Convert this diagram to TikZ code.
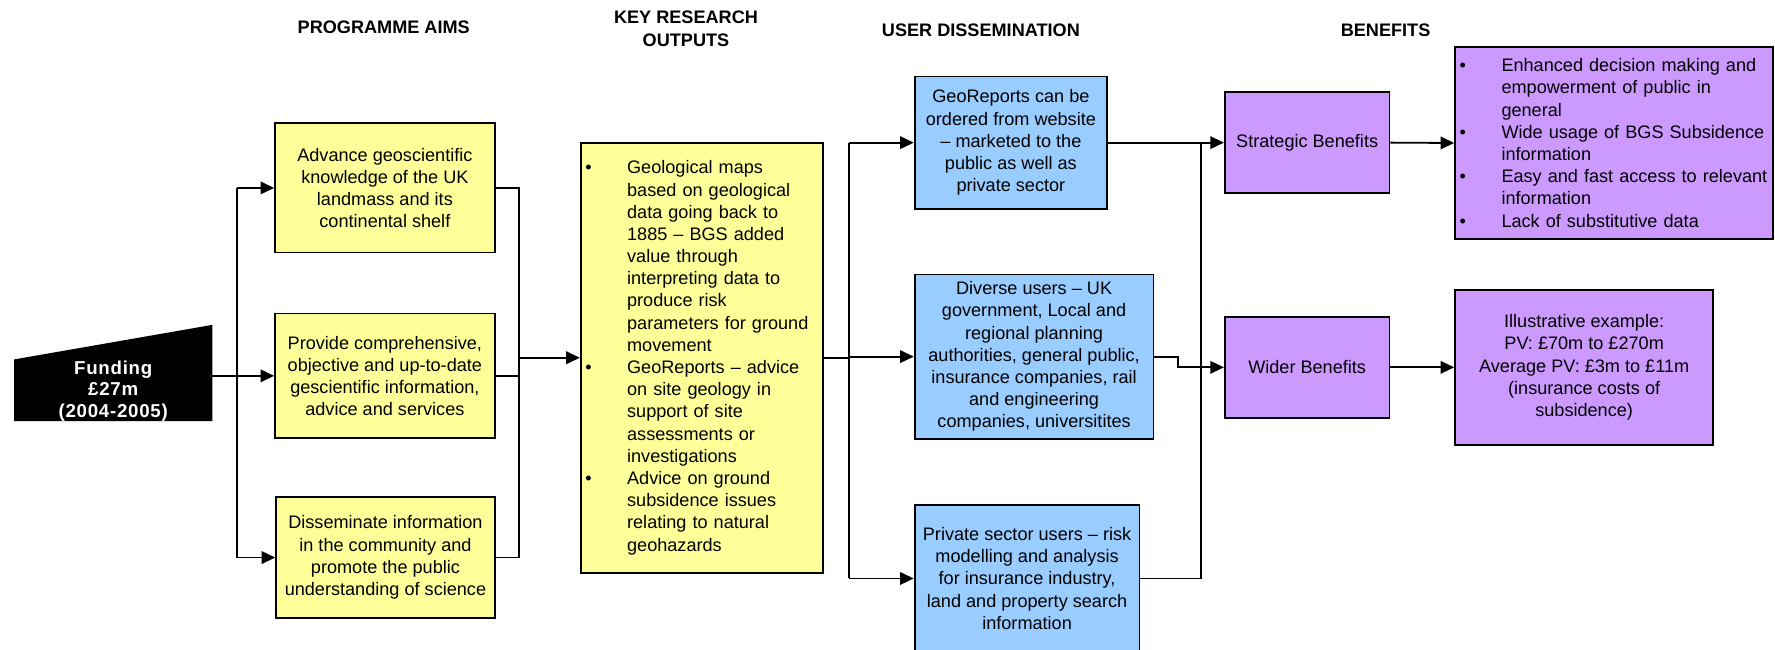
\documentclass[tikz,border=0pt]{standalone}
\usepackage{fontspec}
\setmainfont{Liberation Sans}
\usetikzlibrary{arrows.meta}
\definecolor{yel}{HTML}{FFFF99}
\definecolor{blu}{HTML}{99CCFF}
\definecolor{pur}{HTML}{CC99FF}
\newcommand{\bul}{\makebox[37pt][l]{\textbullet}}
\newcommand{\ind}{\hspace*{37pt}}
\begin{document}
\begin{tikzpicture}[x=1pt,y=-1pt,
  font=\fontsize{16}{19.6}\selectfont,
  box/.style={draw=black, line width=1.6pt, inner sep=0pt, align=center},
  yb/.style={box, fill=yel},
  bb/.style={box, fill=blu},
  pb/.style={box, fill=pur},
  hd/.style={font=\bfseries\fontsize{16}{20}\selectfont, align=center, inner sep=0pt},
  conn/.style={line width=1.6pt},
  arr/.style={conn, -{Triangle[length=12pt,width=11pt]}}]
\useasboundingbox (0,0) rectangle (1568,574);

% headers
\node[hd] (h1) at (339,24) {PROGRAMME AIMS};
\node[hd] (h2) at (606,25.5) {KEY RESEARCH\\OUTPUTS};
\node[hd] (h3) at (866.5,26.5) {USER DISSEMINATION};
\node[hd] (h4) at (1224,27) {BENEFITS};

% funding
\fill[black] (12.5,317.5) -- (187.5,287) -- (187.5,372) -- (12.5,372) -- cycle;
\node[text=white, font=\bfseries\fontsize{16.5}{19.2}\selectfont\addfontfeature{LetterSpace=4}, align=center, inner sep=0pt] (fund) at (100,345.4) {Funding\\£27m\\(2004-2005)};
\coordinate (fundR) at (187.5,332);

% programme aims
\node[yb, minimum width=194pt, minimum height=114pt] (A1) at (340,166)
  {Advance geoscientific\\knowledge of the UK\\landmass and its\\continental shelf};
\node[yb, minimum width=194pt, minimum height=110pt] (A2) at (340,332)
  {Provide comprehensive,\\objective and up-to-date\\gescientific information,\\advice and services};
\node[yb, minimum width=193pt, minimum height=107pt] (A3) at (340.5,492.5)
  {Disseminate information\\in the community and\\promote the public\\understanding of science};

% key research outputs
\node[yb, minimum width=214pt, minimum height=380pt, text width=206pt, align=left, inner xsep=4pt] (KRO) at (620,316)
  {\bul Geological maps\\\ind based on geological\\\ind data going back to\\\ind 1885 – BGS added\\\ind value through\\\ind interpreting data to\\\ind produce risk\\\ind parameters for ground\\\ind movement\\
   \bul GeoReports – advice\\\ind on site geology in\\\ind support of site\\\ind assessments or\\\ind investigations\\
   \bul Advice on ground\\\ind subsidence issues\\\ind relating to natural\\\ind geohazards};

% user dissemination
\node[bb, minimum width=170pt, minimum height=117pt] (B1) at (893,126)
  {GeoReports can be\\ordered from website\\– marketed to the\\public as well as\\private sector};
\node[bb, minimum width=211pt, minimum height=145pt] (B2) at (913.5,315)
  {Diverse users – UK\\government, Local and\\regional planning\\authorities, general public,\\insurance companies, rail\\and engineering\\companies, universitites};
\node[bb, minimum width=198.6pt, minimum height=130pt] (B3) at (907.3,511)
  {Private sector users – risk\\modelling and analysis\\for insurance industry,\\land and property search\\information};

% benefits
\node[pb, minimum width=145.4pt, minimum height=89pt] (S) at (1154.7,126) {Strategic Benefits};
\node[pb, minimum width=145.4pt, minimum height=89pt] (W) at (1154.7,324.5) {Wider Benefits};
\node[pb, minimum width=280.6pt, minimum height=170pt, text width=272.6pt, align=left, inner xsep=4pt] (BEN) at (1425.7,126.3)
  {\bul Enhanced decision making and\\\ind empowerment of public in\\\ind general\\
   \bul Wide usage of BGS Subsidence\\\ind information\\
   \bul Easy and fast access to relevant\\\ind information\\
   \bul Lack of substitutive data};
\node[pb, minimum width=228pt, minimum height=137pt] (IL) at (1399.4,324.5)
  {Illustrative example:\\PV: £70m to £270m\\Average PV: £3m to £11m\\(insurance costs of\\subsidence)};

% connectors: funding -> aims
\coordinate (vL) at (209.5,0);
\draw[arr] (fundR) -- (A2.west);
\draw[conn] (vL |- A1.west) -- (vL |- A3.west);
\draw[arr] (vL |- A1.west) -- (A1.west);
\draw[arr] (vL |- A3.west) -- (A3.west);

% aims -> outputs
\coordinate (vR) at (458.4,0);
\draw[conn] (A1.east) -- (vR |- A1.east) -- (vR |- A3.east) -- (A3.east);
\draw[conn] (A2.east) -- (vR |- A2.east);
\draw[arr] (vR |- KRO.west) -- (KRO.west);

% outputs -> dissemination
\coordinate (vK) at (750,0);
\draw[conn] (KRO.east) -- (vK |- KRO.east);
\draw[conn] (vK |- B1.west) -- (vK |- B3.west);
\draw[arr] (vK |- B1.west) -- (B1.west);
\draw[arr] (vK |- B2.west) -- (B2.west);
\draw[arr] (vK |- B3.west) -- (B3.west);

% dissemination -> benefits
\coordinate (vB) at (1061,0);
\draw[arr] (B1.east) -- (S.west);
\draw[conn] (vB |- B1.east) -- (vB |- B3.east) -- (B3.east);
\draw[arr] (B2.east) -- ++(21,0) |- (W.west);

% benefits -> details
\draw[arr] (S.east) -- (BEN.west);
\draw[arr] (W.east) -- (IL.west);
\end{tikzpicture}
\end{document}
